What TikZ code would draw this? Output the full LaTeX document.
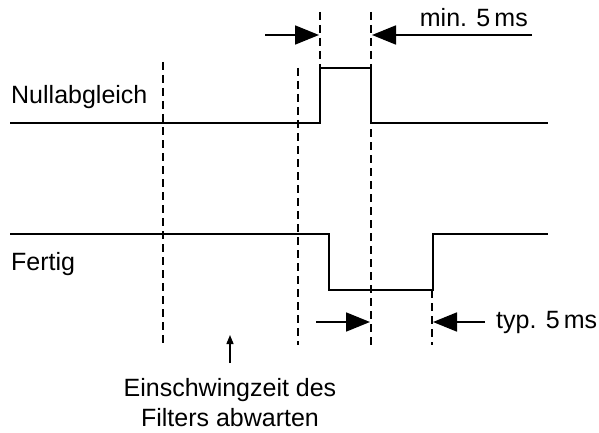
\documentclass[tikz,border=0pt]{standalone}
\usepackage{fontspec}
\setmainfont{Liberation Sans}
\usetikzlibrary{arrows.meta}
\begin{document}
\begin{tikzpicture}[x=1pt,y=-1pt,
  wave/.style={line width=1.8pt},
  guide/.style={line width=1.1pt,dash pattern=on 8pt off 5pt},
  dimarrow/.style={line width=1.8pt,-{Triangle[length=24pt,width=19pt]}},
  smallarrow/.style={line width=1.4pt,-{Triangle[length=9pt,width=7pt]}},
  lbl/.style={font=\fontsize{25}{30}\selectfont,inner sep=0pt}]
\useasboundingbox (0,0) rectangle (599,433);
% guides
\draw[guide] (163,62) -- (163,345);
\draw[guide] (298,68) -- (298,345);
\draw[guide] (320,12) -- (320,67);
\draw[guide] (371,12) -- (371,345);
\draw[guide] (432,290) -- (432,345);
% waveforms
\coordinate (n0) at (10,123);
\coordinate (n1) at (320,123);
\coordinate (n2) at (320,68);
\coordinate (n3) at (371,68);
\coordinate (n4) at (371,123);
\coordinate (n5) at (548,123);
\draw[wave] (n0) -- (n1) -- (n2) -- (n3) -- (n4) -- (n5);
\coordinate (f0) at (10,234);
\coordinate (f1) at (329,234);
\coordinate (f2) at (329,290);
\coordinate (f3) at (433,290);
\coordinate (f4) at (433,234);
\coordinate (f5) at (548,234);
\draw[wave] (f0) -- (f1) -- (f2) -- (f3) -- (f4) -- (f5);
% labels
\node[lbl,anchor=west] (lnull) at (11,97) {Nullabgleich};
\node[lbl,anchor=west] (lfert) at (11,264) {Fertig};
\node[lbl,anchor=east] (lmin) at (528,18) {min. 5\,ms};
\node[lbl,anchor=west] (ltyp) at (496,322) {typ. 5\,ms};
\node[lbl,align=center] (lein) at (230,403) {Einschwingzeit des\\Filters abwarten};
% dimension arrows
\coordinate (a1s) at (265,35); \coordinate (a1e) at (319,35);
\coordinate (a2s) at (532,35); \coordinate (a2e) at (372,35);
\draw[dimarrow] (a1s) -- (a1e);
\draw[dimarrow] (a2s) -- (a2e);
\coordinate (b1s) at (316,322); \coordinate (b1e) at (370,322);
\coordinate (b2s) at (485,322); \coordinate (b2e) at (433,322);
\draw[dimarrow] (b1s) -- (b1e);
\draw[dimarrow] (b2s) -- (b2e);
\coordinate (up) at (230,335);
\draw[smallarrow] (230,363) -- (up);
\end{tikzpicture}
\end{document}
